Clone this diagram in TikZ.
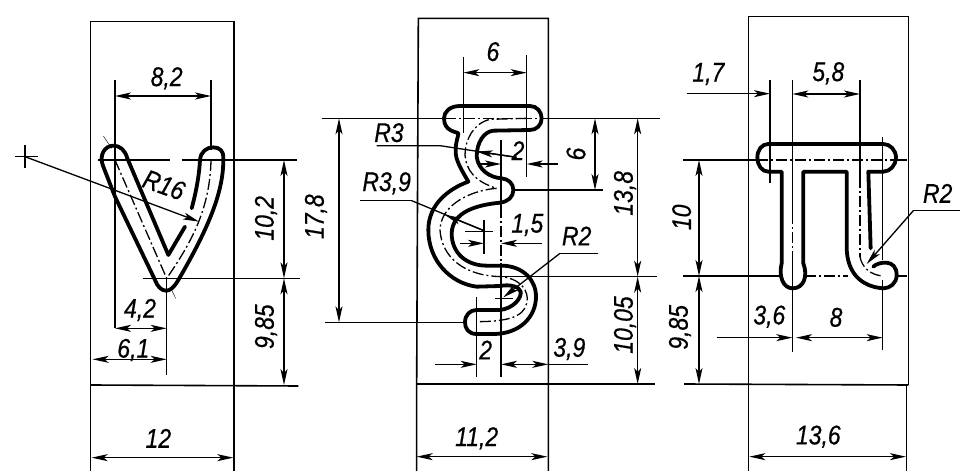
\documentclass[tikz,border=0pt]{standalone}
\usepackage{fontspec}
\setmainfont{Liberation Sans}[FakeStretch=.85,FakeBold=.5]
\usetikzlibrary{arrows.meta}
\tikzset{
  >={Stealth[length=16pt,width=7pt,inset=4pt]},
  contour/.style={line width=3.8pt,line join=round,line cap=round},
  ext/.style={line width=1.6pt},
  dimline/.style={line width=1.3pt},
  cline/.style={line width=1.3pt,dash pattern=on 11pt off 3pt on 2pt off 3pt},
  lbl/.style={font=\fontsize{27}{27}\selectfont\itshape,inner sep=0pt},
  lblv/.style={lbl,rotate=90}
}
\begin{document}
\begin{tikzpicture}[x=1pt,y=-1pt]
  \useasboundingbox (0,0) rectangle (961,471);
  % left letter
  \begin{scope}[scale=1/3]
    \draw[ext] (272,1413) -- (272,65) -- (702,65) -- (702,1413);
    \draw[ext] (272,1155) -- (895,1158);
    \draw[ext] (295,480) -- (510,480) (545,480) -- (890,480);
    \draw[ext] (428,835) -- (900,835);
    \draw[ext] (345,240) -- (345,985);
    \draw[ext] (633,240) -- (633,450);
    \draw[ext] (500,835) -- (500,1125);
    \draw[cline] (345,480) -- (500,835);
    \draw[cline] (633,480) .. controls (630,620) and (580,720) .. (500,835);
    \draw[thin] (310,408) -- (335,445) (510,860) -- (527,895);
    \draw[contour] (575,625) .. controls (590,570) and (598,520) .. (600,480)
      .. controls (602,455) and (620,442) .. (640,442)
      .. controls (660,442) and (670,455) .. (670,470)
      .. controls (672,560) and (640,660) .. (535,840)
      .. controls (520,865) and (510,872) .. (498,872)
      .. controls (485,872) and (472,860) .. (465,840)
      -- (345,590) -- (310,500)
      .. controls (295,465) and (315,437) .. (340,437)
      .. controls (360,437) and (375,450) .. (382,475)
      -- (505,765) -- (555,680);
    \draw[dimline,<->] (345,288) -- (633,288);
    \draw[dimline,<->] (345,985) -- (500,985);
    \draw[dimline,<->] (278,1078) -- (500,1078);
    \draw[dimline,<->] (275,1373) -- (700,1373);
    \draw[dimline,<->] (852,480) -- (852,835);
    \draw[dimline,<->] (852,835) -- (852,1155);
    \draw[dimline] (45,470) -- (115,470) (75,435) -- (75,505);
    \draw[dimline,->] (75,470) -- (597,665);
    \node[lbl] (v82) at (500,235) {8,2};
    \node[lbl,rotate=-20] (vR16) at (492,555) {R16};
    \node[lblv] (v102) at (798,655) {10,2};
    \node[lblv] (v985) at (798,980) {9,85};
    \node[lbl] (v42) at (420,930) {4,2};
    \node[lbl] (v61) at (400,1050) {6,1};
    \node[lbl] (v12) at (475,1315) {12};
  \end{scope}
  % middle letter
  \begin{scope}[shift={(320,0)},scale=1/3]
    \draw[ext] (290,1413) -- (290,1152) -- (295,55) -- (685,55) -- (685,1413);
    \draw[ext] (290,1152) -- (1005,1152);
    \draw[ext] (5,355) -- (375,355) (665,355) -- (1020,355);
    \draw[cline] (375,355) -- (665,355);
    \draw[ext] (585,570) -- (850,570);
    \draw[ext] (545,830) -- (1010,830);
    \draw[ext] (15,967) -- (440,967);
    \draw[ext] (430,170) -- (430,400);
    \draw[ext] (620,165) -- (620,530);
    \draw[ext] (470,890) -- (470,1130);
    \draw[ext] (543,420) -- (543,620) (543,790) -- (543,1130);
    \draw[cline] (543,620) -- (543,790);
    \draw[cline] (620,355) -- (510,358) .. controls (460,370) and (435,420) .. (435,465)
      .. controls (438,510) and (465,545) .. (530,565)
      .. controls (460,570) and (362,610) .. (360,690)
      .. controls (365,770) and (430,828) .. (545,830)
      .. controls (590,835) and (620,860) .. (622,895)
      .. controls (620,940) and (590,965) .. (470,965);
    \draw[contour] (415,400) .. controls (410,395) and (372,395) .. (372,355)
      .. controls (372,335) and (390,318) .. (420,318) -- (630,318)
      .. controls (650,318) and (665,335) .. (665,355)
      .. controls (665,375) and (650,390) .. (630,390) -- (520,392)
      .. controls (490,395) and (470,430) .. (470,470)
      .. controls (475,510) and (510,533) .. (545,535)
      .. controls (565,537) and (580,550) .. (580,570)
      .. controls (580,590) and (565,605) .. (540,608)
      .. controls (470,615) and (397,635) .. (395,700)
      .. controls (395,760) and (440,797) .. (500,797) -- (550,797)
      .. controls (610,800) and (648,840) .. (648,890)
      .. controls (648,950) and (600,1002) .. (520,1002) -- (470,1002)
      .. controls (445,1002) and (435,985) .. (435,967)
      .. controls (435,945) and (450,930) .. (470,930) -- (540,930)
      .. controls (580,925) and (605,895) .. (602,875)
      .. controls (598,860) and (570,852) .. (540,858) -- (470,860)
      .. controls (390,850) and (325,780) .. (325,690)
      .. controls (325,610) and (390,565) .. (445,545)
      .. controls (425,510) and (405,480) .. (407,450)
      .. controls (407,425) and (415,410) .. (415,400) -- cycle;
    \draw[dimline,<->] (430,218) -- (620,218);
    \draw[dimline,<->] (57,355) -- (57,967);
    \draw[dimline,<->] (825,355) -- (825,570);
    \draw[dimline,<->] (953,355) -- (953,830);
    \draw[dimline,<->] (953,830) -- (953,1152);
    \draw[dimline,<->] (290,1370) -- (682,1370);
    % outside dimensions
    \draw[dimline,->] (470,492) -- (543,492);
    \draw[dimline,->] (715,492) -- (620,492);
    \draw[dimline,->] (420,730) -- (492,730);
    \draw[dimline,->] (665,730) -- (543,730);
    \draw[dimline,->] (345,1093) -- (470,1093);
    \draw[dimline,<->] (543,1093) -- (685,1093);
    \draw[dimline] (685,1093) -- (805,1093);
    % radii
    \draw[dimline] (170,437) -- (360,437) -- (590,472);
    \draw[dimline,->] (590,472) -- (470,455);
    \draw[dimline] (120,602) -- (275,602);
    \draw[dimline] (275,602) -- (492,692);
    \draw[dimline,->] (492,692) -- (375,645);
    \draw[dimline] (835,760) -- (720,760);
    \draw[dimline,->] (720,760) -- (550,892);
    \draw[dimline] (435,695) -- (520,695) (492,660) -- (492,762);
    \draw[dimline] (525,895) -- (580,895);
    \node[lbl] (s6) at (519,155) {6};
    \node[lbl] (sR3) at (207,398) {R3};
    \node[lbl] (s2a) at (594,452) {2};
    \node[lbl] (sR39) at (200,550) {R3,9};
    \node[lbl] (s15) at (622,675) {1,5};
    \node[lbl] (sR2) at (770,708) {R2};
    \node[lbl] (s2b) at (497,1050) {2};
    \node[lbl] (s39) at (748,1047) {3,9};
    \node[lbl] (s112) at (470,1315) {11,2};
    \node[lblv] (s178) at (-12,650) {17,8};
    \node[lblv] (s6v) at (768,462) {6};
    \node[lblv] (s138) at (915,580) {13,8};
    \node[lblv] (s1005) at (915,975) {10,05};
  \end{scope}
  % right letter
  \begin{scope}[shift={(640,0)},scale=1/3]
    \draw[ext] (325,1413) -- (325,50) -- (805,50) -- (805,1155);
    \draw[ext] (800,1155) -- (800,1413);
    \draw[ext] (132,1152) -- (805,1155);
    \draw[ext] (130,480) -- (352,480) (768,480) -- (800,480);
    \draw[cline] (352,480) -- (768,480);
    \draw[ext] (130,828) -- (420,828) (770,828) -- (800,828);
    \draw[cline] (495,828) -- (625,828);
    \draw[ext] (390,240) -- (390,550);
    \draw[ext] (457,240) -- (457,640) (457,780) -- (457,1055);
    \draw[cline] (457,640) -- (457,780);
    \draw[ext] (660,240) -- (660,530);
    \draw[cline] (660,530) -- (660,770);
    \draw[cline] (660,770) .. controls (665,800) and (690,825) .. (728,828);
    \draw[ext] (728,410) -- (728,780) (728,840) -- (728,1050);
    \draw[contour] (700,800) .. controls (715,785) and (770,775) .. (770,825)
      .. controls (770,850) and (750,865) .. (730,865)
      .. controls (660,860) and (620,815) .. (620,740)
      -- (620,515) -- (490,515) -- (490,790)
      .. controls (505,830) and (490,865) .. (458,865)
      .. controls (430,865) and (415,830) .. (425,790)
      -- (425,515) -- (385,515)
      .. controls (365,515) and (352,495) .. (352,473)
      .. controls (352,450) and (365,432) .. (385,432)
      -- (730,432)
      .. controls (750,432) and (768,450) .. (768,473)
      .. controls (768,495) and (750,515) .. (730,515)
      -- (685,515) -- (692,745);
    \draw[dimline,->] (140,281) -- (390,281);
    \draw[dimline,<->] (457,282) -- (660,282);
    \draw[dimline,<->] (177,480) -- (177,828);
    \draw[dimline,<->] (177,828) -- (177,1152);
    \draw[dimline,->] (230,1013) -- (457,1013);
    \draw[dimline,<->] (468,1013) -- (728,1013);
    \draw[dimline,<->] (328,1370) -- (798,1370);
    \draw[dimline] (960,632) -- (820,632);
    \draw[dimline,->] (820,632) -- (680,792);
    \node[lbl] (p17) at (205,222) {1,7};
    \node[lbl] (p58) at (565,220) {5,8};
    \node[lbl] (pR2) at (893,580) {R2};
    \node[lblv] (p10) at (125,652) {10};
    \node[lblv] (p985) at (120,982) {9,85};
    \node[lbl] (p36) at (388,950) {3,6};
    \node[lbl] (p8) at (588,952) {8};
    \node[lbl] (p136) at (535,1310) {13,6};
  \end{scope}
\end{tikzpicture}
\end{document}
